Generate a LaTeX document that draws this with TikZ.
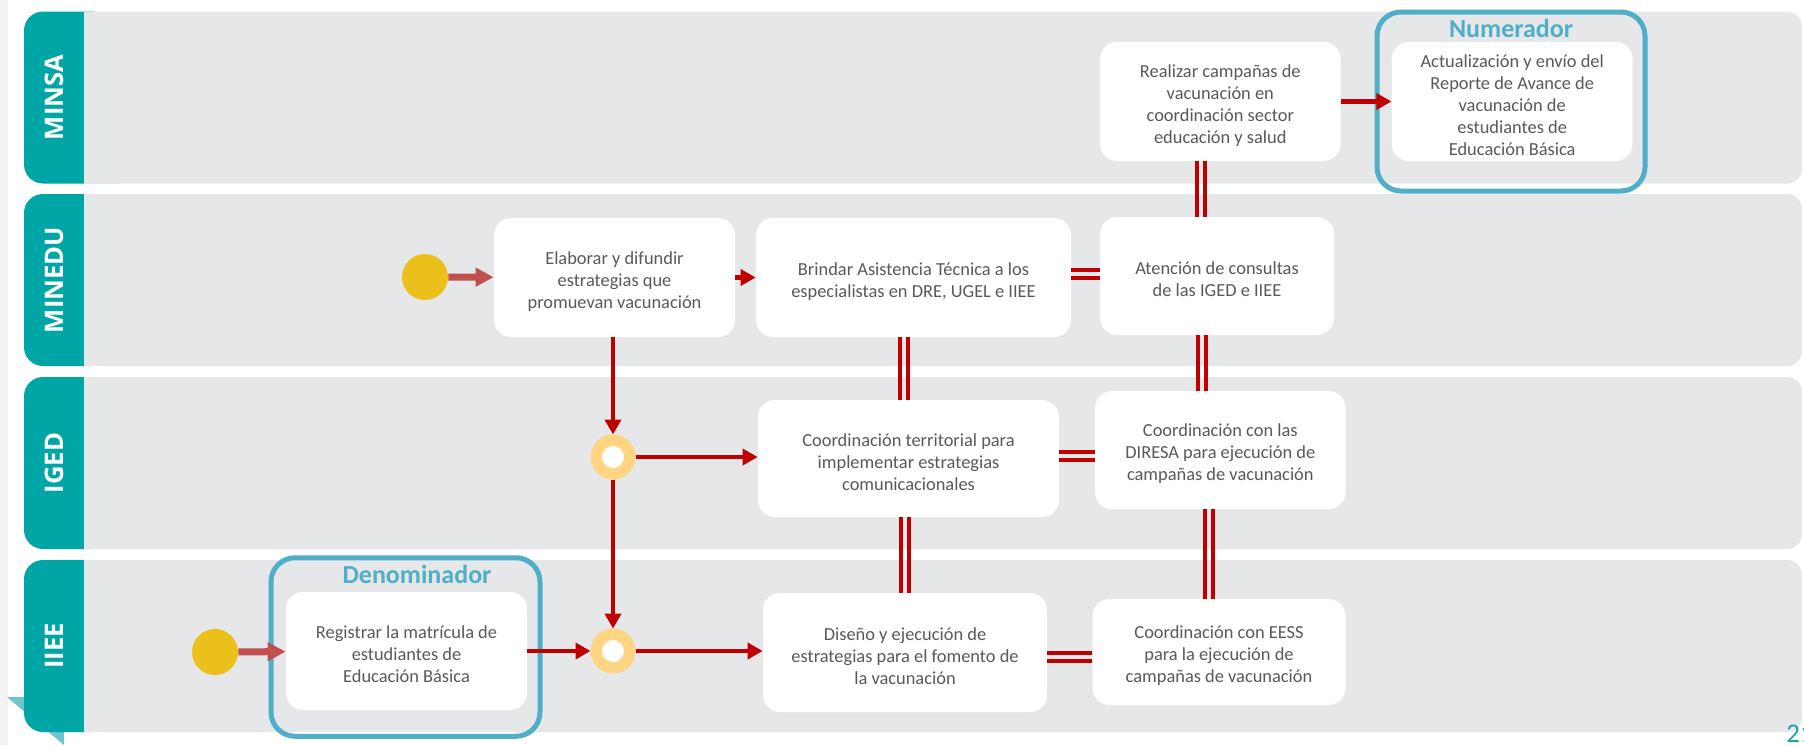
\documentclass[tikz,border=0pt]{standalone}
\usepackage{fontspec}
\setmainfont{Carlito}
\newfontfamily\lanefont{Open Sans}
\usetikzlibrary{arrows.meta}
\definecolor{lanegray}{RGB}{230,231,232}
\definecolor{laneteal}{RGB}{0,166,166}
\definecolor{linered}{RGB}{192,0,0}
\definecolor{startred}{RGB}{192,80,77}
\definecolor{startyellow}{RGB}{236,192,26}
\definecolor{ringorange}{RGB}{255,212,130}
\definecolor{framecyan}{RGB}{80,174,200}
\definecolor{boxtext}{RGB}{89,89,89}
\definecolor{curlteal}{RGB}{108,197,207}
\definecolor{pagegray}{RGB}{242,242,242}
\definecolor{pagenum}{RGB}{26,165,170}
\newcommand{\topgap}{\rule{0pt}{10pt}}
\begin{document}
\begin{tikzpicture}[x=0.5pt, y=-0.5pt,
    act/.style={fill=white, rounded corners=8.5pt, align=center, text=boxtext, font=\fontsize{9.2}{11}\selectfont, inner sep=0pt},
    zone/.style={draw=framecyan, line width=2.5pt, rounded corners=12pt, inner sep=0pt},
    tag/.style={text=framecyan, font=\fontsize{13}{15}\selectfont\bfseries, inner sep=0pt},
    lanelab/.style={rotate=90, text=white, font=\lanefont\bfseries\fontsize{12.8}{15}\selectfont, inner sep=0pt},
    seed/.style={circle, fill=startyellow, minimum size=23pt, inner sep=0pt},
    ring/.style={circle, draw=ringorange, line width=5.75pt, fill=white, minimum size=16.75pt, inner sep=0pt},
    flow/.style={draw=linered, line width=2.2pt, -{Triangle[length=7.5pt,width=8pt]}},
    entry/.style={draw=startred, line width=3.5pt, -{Triangle[length=9pt,width=9pt]}},
    pairv/.style={preaction={draw=linered, line width=2pt, transform canvas={xshift=-2pt}}, postaction={draw=linered, line width=2pt, transform canvas={xshift=2pt}}},
    pairh/.style={preaction={draw=linered, line width=2pt, transform canvas={yshift=-2pt}}, postaction={draw=linered, line width=2pt, transform canvas={yshift=2pt}}}]
  \useasboundingbox (0,0) rectangle (1804,745);
  \fill[white] (0,0) rectangle (1804,745);
  \fill[pagegray] (0,0) rectangle (8,745);
  \fill[curlteal] (7,697) -- (64,697) -- (64,745) -- cycle;
  \foreach \lane/\top in {MINSA/11.5,MINEDU/194,IGED/377,IIEE/560}{
    \fill[laneteal, rounded corners=9.5pt] (24,\top) rectangle (110,\top+172);
    \fill[lanegray, rounded corners=7.5pt] (84,\top) rectangle (1802,\top+172);
    \fill[lanegray] (84,\top) rectangle (120,\top+172);
    \node[lanelab] (\lane) at (54,\top+86) {\lane};
  }
  \node[zone, minimum width=134pt, minimum height=89.5pt] (numframe) at (1511,101.5) {};
  \node[tag] (numtag) at (1511,28) {Numerador};
  \node[zone, minimum width=134.5pt, minimum height=89.25pt] (denframe) at (405.5,647) {};
  \node[tag] (dentag) at (417,574) {Denominador};

  \node[act, minimum width=120.3pt, minimum height=59.5pt] (realizar) at (1220.3,101.5)
    {\topgap Realizar campañas de\\vacunación en\\coordinación sector\\educación y salud};
  \node[act, minimum width=120.4pt, minimum height=59.5pt] (numin) at (1512.2,101.5)
    {\topgap Actualización y envío del\\Reporte de Avance de\\vacunación de\\estudiantes de\\Educación Básica};
  \node[act, minimum width=120.5pt, minimum height=59.5pt] (elaborar) at (614.5,277.5)
    {\topgap Elaborar y difundir\\estrategias que\\promuevan vacunación};
  \node[act, minimum width=157.5pt, minimum height=59.5pt] (brindar) at (913.5,277.5)
    {\topgap Brindar Asistencia Técnica a los\\especialistas en DRE, UGEL e IIEE};
  \node[act, minimum width=117pt, minimum height=59pt] (atencion) at (1217,276)
    {\topgap Atención de consultas\\de las IGED e IIEE};
  \node[act, minimum width=150.5pt, minimum height=58.5pt] (terr) at (908.5,458.5)
    {\topgap Coordinación territorial para\\implementar estrategias\\comunicacionales};
  \node[act, minimum width=125.3pt, minimum height=59pt] (diresa) at (1220.3,450)
    {\topgap Coordinación con las\\DIRESA para ejecución de\\campañas de vacunación};
  \node[act, minimum width=142pt, minimum height=59.5pt] (diseno) at (905,652.5)
    {\topgap Diseño y ejecución de\\estrategias para el fomento de\\la vacunación};
  \node[act, minimum width=126.5pt, minimum height=53pt] (eess) at (1219,652)
    {\topgap Coordinación con EESS\\para la ejecución de\\campañas de vacunación};
  \node[act, minimum width=120.5pt, minimum height=59pt] (registrar) at (406.5,651)
    {\topgap Registrar la matrícula de\\estudiantes de\\Educación Básica};

  \node[seed] (seed1) at (425,277) {};
  \node[seed] (seed2) at (215,652) {};
  \node[ring] (gw1) at (613,457) {};
  \node[ring] (gw2) at (613,651) {};
  \node[text=pagenum, font=\fontsize{13.5}{15}\selectfont, anchor=base west, inner sep=0pt] (pg) at (1786,742) {21};

  \draw[entry] (seed1) -- (elaborar);
  \draw[flow] (elaborar) -- (brindar);
  \draw[flow] (elaborar.south -| gw1) -- (gw1);
  \draw[flow] (gw1) -- (gw1 -| terr.west);
  \draw[flow] (gw1) -- (gw2);
  \draw[entry] (seed2) -- (registrar);
  \draw[flow] (registrar) -- (gw2);
  \draw[flow] (gw2) -- (gw2 -| diseno.west);
  \draw[flow] (realizar) -- (numin);
  \path[pairv] (realizar.south -| 1201,0) -- (atencion.north -| 1201,0);
  \path[pairh] (brindar.east |- 0,274) -- (atencion.west |- 0,274);
  \path[pairv] (brindar.south -| 904,0) -- (terr.north -| 904,0);
  \path[pairv] (atencion.south -| 1202,0) -- (diresa.north -| 1202,0);
  \path[pairh] (terr.east |- 0,455.5) -- (diresa.west |- 0,455.5);
  \path[pairv] (terr.south -| 905,0) -- (diseno.north -| 905,0);
  \path[pairv] (diresa.south -| 1209,0) -- (eess.north -| 1209,0);
  \path[pairh] (diseno.east |- 0,657) -- (eess.west |- 0,657);
\end{tikzpicture}
\end{document}
